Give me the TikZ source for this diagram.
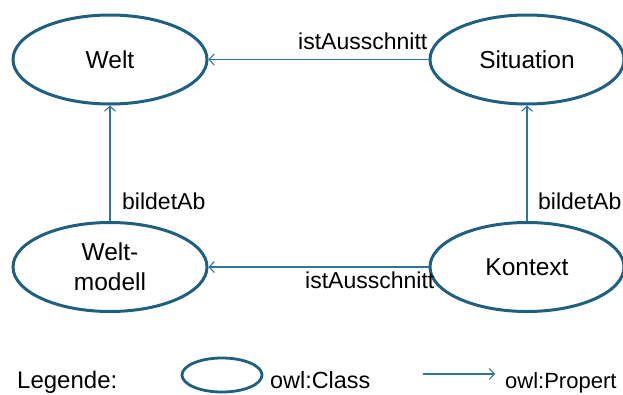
\documentclass[tikz,border=0pt]{standalone}
\usepackage{fontspec}
\setmainfont{Liberation Sans}
\usetikzlibrary{shapes.geometric,arrows.meta}
\definecolor{ellc}{RGB}{30,96,128}
\definecolor{arrc}{RGB}{45,118,155}
\begin{document}
\begin{tikzpicture}[x=1pt,y=-1pt,
  cls/.style={ellipse,draw=ellc,line width=3pt,inner sep=0pt,minimum width=194pt,minimum height=89pt,align=center,font=\fontsize{24.5}{30}\selectfont},
  rel/.style={draw=arrc,line width=1.1pt,-{Straight Barb[length=5pt,width=11pt]}},
  lbl/.style={anchor=base west,inner sep=0pt,font=\fontsize{23}{28}\selectfont}]
\useasboundingbox (0,0) rectangle (623,394);
\node[cls] (welt) at (110,59.5) {Welt};
\node[cls] (sit) at (527,59.5) {Situation};
\node[cls] (wm) at (110,267) {Welt-\\modell};
\node[cls] (kon) at (527,267) {Kontext};
\draw[rel] (sit.west) -- (welt.east);
\draw[rel] (kon.west) -- (wm.east);
\draw[rel] (wm.north) -- (welt.south);
\draw[rel] (kon.north) -- (sit.south);
\node[lbl] (l1) at (298,49) {istAusschnitt};
\node[lbl] (l2) at (305,288) {istAusschnitt};
\node[lbl] (l3) at (122,209) {bildetAb};
\node[lbl] (l4) at (538,209) {bildetAb};
% legend
\node[lbl,font=\fontsize{24}{28}\selectfont] (leg) at (17,388) {Legende:};
\node[ellipse,draw=ellc,line width=2.8pt,inner sep=0pt,minimum width=80pt,minimum height=34pt] (lc) at (222,375) {};
\node[lbl,font=\fontsize{23.4}{28}\selectfont] (lct) at (270,388) {owl:Class};
\coordinate (la) at (423,374);
\coordinate (lb) at (495,374);
\draw[rel] (la) -- (lb);
\node[lbl,font=\fontsize{22}{28}\selectfont] (lpt) at (505,388) {owl:Propert};
\end{tikzpicture}
\end{document}
